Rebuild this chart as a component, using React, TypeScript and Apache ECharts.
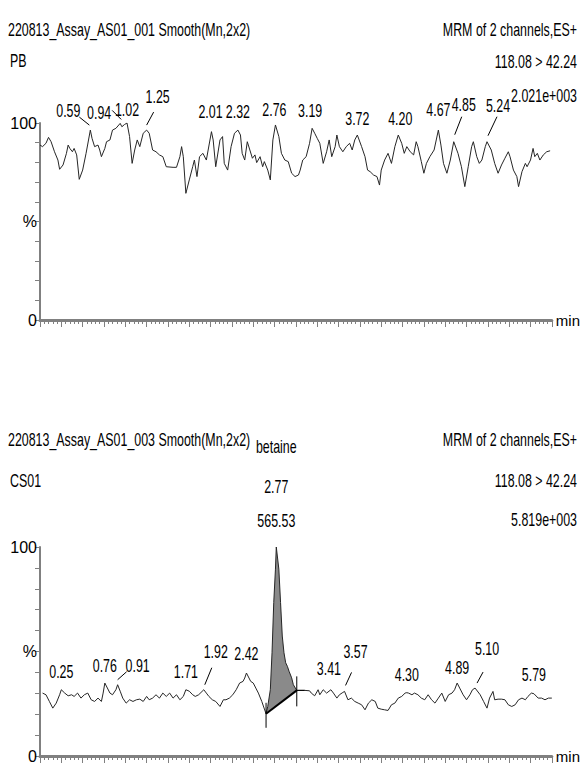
import React, { useEffect, useRef } from "react";
import * as echarts from "echarts";

const FONT = "'Liberation Sans', Arial, sans-serif";
const SQUEEZE = 0.69;
const TEXT_SIZE = 18;

// ---------- Top chromatogram (PB) : time (min), relative intensity (%) ----------
const topTrace: number[][] = [
  [0.00, 88.8], [0.03, 88.0], [0.07, 89.7], [0.10, 92.7], [0.13, 90.5], [0.17, 85.4], [0.21, 81.2], [0.23, 76.5],
  [0.27, 78.7], [0.31, 84.6], [0.33, 88.8], [0.35, 87.1], [0.38, 85.4], [0.40, 87.1], [0.43, 83.8], [0.46, 71.4],
  [0.50, 76.1], [0.54, 84.6], [0.59, 96.4], [0.61, 92.2], [0.64, 88.0], [0.68, 88.8], [0.70, 86.3], [0.72, 82.9],
  [0.76, 87.1], [0.78, 90.5], [0.82, 91.4], [0.85, 96.4], [0.89, 97.3], [0.94, 99.8], [0.96, 98.1], [0.99, 99.2],
  [1.02, 100], [1.05, 93.1], [1.08, 79.5], [1.11, 86.3], [1.14, 91.4], [1.17, 88.0], [1.21, 94.8], [1.25, 96.4],
  [1.28, 94.8], [1.32, 86.3], [1.36, 85.4], [1.40, 83.8], [1.44, 82.9], [1.48, 77.8], [1.56, 77.5], [1.60, 77.5],
  [1.64, 82.9], [1.66, 88.0], [1.68, 82.9], [1.71, 64.3], [1.75, 71.1], [1.79, 77.8], [1.81, 81.2], [1.84, 72.8],
  [1.87, 82.9], [1.91, 84.6], [1.95, 81.2], [2.01, 95.6], [2.03, 91.4], [2.06, 77.8], [2.11, 91.4], [2.14, 93.1],
  [2.16, 79.5], [2.20, 76.1], [2.24, 88.0], [2.28, 94.8], [2.32, 96.4], [2.35, 93.9], [2.37, 84.6], [2.40, 81.2],
  [2.43, 90.5], [2.46, 86.3], [2.49, 82.1], [2.52, 83.8], [2.54, 79.9], [2.58, 82.9], [2.61, 77.8], [2.63, 80.4],
  [2.67, 76.1], [2.70, 71.1], [2.73, 91.4], [2.76, 99.0], [2.80, 93.1], [2.83, 84.6], [2.87, 81.2], [2.91, 80.4],
  [2.95, 74.5], [2.99, 72.8], [3.03, 73.6], [3.05, 76.1], [3.08, 81.2], [3.12, 82.9], [3.16, 89.7], [3.19, 97.3],
  [3.22, 94.8], [3.25, 92.2], [3.28, 89.7], [3.32, 79.5], [3.36, 85.4], [3.39, 91.4], [3.42, 82.9], [3.46, 88.0],
  [3.48, 93.9], [3.51, 88.0], [3.55, 85.4], [3.59, 88.0], [3.63, 89.7], [3.66, 86.3], [3.69, 91.4], [3.72, 93.9],
  [3.77, 88.0], [3.81, 82.9], [3.84, 76.1], [3.87, 75.3], [3.91, 73.6], [3.95, 72.8], [3.98, 68.5], [4.00, 76.1],
  [4.04, 81.2], [4.08, 84.6], [4.12, 79.5], [4.16, 88.0], [4.20, 93.9], [4.24, 89.7], [4.27, 84.6], [4.30, 88.0],
  [4.34, 85.4], [4.38, 83.8], [4.41, 90.5], [4.43, 88.0], [4.47, 80.4], [4.50, 74.5], [4.53, 79.5], [4.57, 82.9],
  [4.62, 86.3], [4.67, 96.4], [4.70, 88.8], [4.73, 79.5], [4.77, 74.5], [4.81, 81.2], [4.85, 90.5], [4.90, 84.6],
  [4.94, 77.8], [4.98, 67.7], [5.02, 77.8], [5.06, 88.0], [5.08, 90.5], [5.12, 82.9], [5.15, 79.5], [5.18, 81.2],
  [5.22, 88.0], [5.24, 90.5], [5.29, 86.3], [5.33, 79.5], [5.37, 74.5], [5.41, 78.7], [5.45, 82.1], [5.49, 85.4],
  [5.51, 82.9], [5.55, 76.1], [5.59, 72.8], [5.61, 67.7], [5.65, 75.3], [5.69, 79.5], [5.71, 77.8], [5.75, 81.2],
  [5.78, 87.1], [5.80, 82.9], [5.83, 84.6], [5.86, 81.2], [5.90, 83.8], [5.94, 85.4], [5.98, 85.9],
];
const topPeakTimes = [0.59, 0.94, 1.02, 1.25, 2.01, 2.32, 2.76, 3.19, 3.72, 4.20, 4.67, 4.85, 5.24];
const topPeakHeights = [96.4, 99.8, 100, 96.4, 95.6, 96.4, 99.0, 97.3, 93.9, 93.9, 96.4, 90.5, 90.5];

// ---------- Bottom chromatogram (CS01) ----------
const bottomPre: number[][] = [
  [0.03, 30.1], [0.07, 29.3], [0.11, 26.1], [0.15, 22.9], [0.19, 25.3], [0.23, 29.3], [0.25, 31.7], [0.29, 30.1],
  [0.33, 28.8], [0.37, 29.3], [0.40, 28.5], [0.44, 30.1], [0.48, 27.7], [0.52, 29.3], [0.56, 30.1], [0.60, 26.9],
  [0.64, 26.1], [0.68, 27.7], [0.72, 26.1], [0.74, 30.1], [0.76, 34.9], [0.82, 30.1], [0.85, 29.3], [0.89, 31.7],
  [0.91, 34.1], [0.94, 31.0], [0.97, 27.7], [1.01, 25.3], [1.05, 26.9], [1.09, 26.1], [1.13, 26.9], [1.17, 27.2],
  [1.21, 26.1], [1.25, 28.5], [1.28, 26.9], [1.32, 27.7], [1.36, 29.3], [1.40, 27.7], [1.44, 30.1], [1.48, 28.5],
  [1.52, 30.1], [1.56, 27.7], [1.60, 29.3], [1.64, 26.9], [1.68, 28.5], [1.71, 31.7], [1.75, 31.0], [1.79, 29.3],
  [1.82, 28.5], [1.86, 29.3], [1.92, 31.7], [1.95, 30.1], [1.98, 28.5], [2.02, 26.9], [2.06, 26.1], [2.11, 23.7],
  [2.15, 26.9], [2.18, 26.9], [2.22, 27.7], [2.26, 29.3], [2.30, 31.7], [2.34, 34.9], [2.38, 35.7], [2.40, 37.3],
  [2.42, 39.7], [2.47, 35.7], [2.50, 34.9], [2.53, 32.5], [2.56, 30.1], [2.60, 26.1],
];
const bottomPeak: number[][] = [
  [2.65, 20.2], [2.67, 23.7], [2.70, 31.7], [2.72, 49.4], [2.74, 73.4], [2.76, 89.4], [2.77, 100], [2.80, 89.4],
  [2.82, 73.4], [2.84, 57.4], [2.86, 49.4], [2.88, 44.6], [2.90, 42.9], [2.92, 40.5], [2.95, 37.4], [2.97, 34.1],
  [3.01, 31.4],
];
const bottomPost: number[][] = [
  [3.10, 31.4], [3.16, 31.2], [3.18, 30.1], [3.22, 28.8], [3.26, 31.7], [3.28, 29.3], [3.32, 31.7], [3.36, 30.1],
  [3.41, 31.7], [3.44, 30.1], [3.48, 27.7], [3.51, 29.3], [3.55, 30.4], [3.57, 30.9], [3.61, 26.9], [3.65, 27.7],
  [3.69, 26.1], [3.73, 25.3], [3.77, 24.5], [3.81, 22.1], [3.85, 25.3], [3.89, 26.9], [3.93, 26.1], [3.96, 22.9],
  [4.00, 22.4], [4.04, 22.1], [4.08, 21.8], [4.12, 24.5], [4.16, 25.3], [4.20, 27.7], [4.24, 28.5], [4.28, 30.1],
  [4.30, 30.3], [4.32, 30.1], [4.36, 29.3], [4.39, 30.1], [4.43, 29.3], [4.47, 27.7], [4.51, 26.9], [4.55, 29.3],
  [4.59, 26.9], [4.63, 25.3], [4.67, 27.7], [4.71, 30.1], [4.75, 26.1], [4.79, 29.3], [4.83, 30.1], [4.86, 31.7],
  [4.89, 34.9], [4.92, 32.5], [4.96, 29.3], [5.00, 26.9], [5.04, 29.3], [5.07, 31.7], [5.10, 32.5], [5.16, 29.3],
  [5.20, 26.1], [5.24, 22.9], [5.27, 27.7], [5.31, 30.9], [5.33, 26.9], [5.37, 27.2], [5.41, 27.2], [5.45, 26.9],
  [5.49, 24.5], [5.53, 23.7], [5.57, 24.5], [5.61, 26.9], [5.65, 27.7], [5.69, 26.9], [5.72, 28.5], [5.76, 30.1],
  [5.79, 29.8], [5.84, 27.7], [5.88, 27.7], [5.92, 26.9], [5.96, 27.7], [6.00, 27.7],
];
const bottomPeakTimes = [0.25, 0.76, 0.91, 1.71, 1.92, 2.42, 3.41, 3.57, 4.30, 4.89, 5.10, 5.79];
const bottomPeakHeights = [31.7, 34.9, 34.1, 31.7, 31.7, 39.7, 31.7, 30.9, 30.3, 34.9, 32.5, 29.8];
const mainPeakName = "betaine";
const mainPeakTime = 2.77;
const mainPeakHeight = 100;
const mainPeakArea = "565.53";

// header texts
const topTitle = "220813_Assay_AS01_001 Smooth(Mn,2x2)";
const topSample = "PB";
const topIntensity = "2.021e+003";
const bottomTitle = "220813_Assay_AS01_003 Smooth(Mn,2x2)";
const bottomSample = "CS01";
const bottomIntensity = "5.819e+003";
const scanText = "MRM of 2 channels,ES+";
const transitionText = "118.08 > 42.24";

// ---------- layout (pixel offsets of labels from their peak apex) ----------
type Off = [number, number, number[]?];
const topLabelOffsets: Off[] = [
  [-22, -19, [-11, -13, -1, -5]],
  [-21, -11, [-8, -13, 1, -4]],
  [0, -13],
  [11, -33, [7, -18, 0, -5]],
  [-1, -20],
  [0, -18],
  [-1, -15],
  [-2, -18],
  [0, -16],
  [2, -16],
  [0, -20],
  [10, -37, [8, -25, 1, -7]],
  [11, -36, [10, -25, 1, -6]],
];
const bottomLabelOffsets: Off[] = [
  [0, -18],
  [0, -17],
  [20, -19, [0, -5, 9, -13]],
  [0, -18],
  [12, -38, [1, -5, 8, -22]],
  [0, -19],
  [-2, -21],
  [11, -40, [1, -6, 7, -19]],
  [0, -18],
  [0, -15],
  [12, -39, [2, -5, 8, -16]],
  [0, -19],
];

const AXIS = "#808080";
const TRACE = "#262626";

function textStyle(text: string, align: string) {
  return { text, fill: "#000", fontSize: TEXT_SIZE, fontFamily: FONT, align, verticalAlign: "middle" };
}

function labelSeries(idx: number, times: number[], heights: number[], offsets: Off[]) {
  return {
    type: "custom",
    xAxisIndex: idx,
    yAxisIndex: idx,
    clip: false,
    silent: true,
    z: 6,
    data: times.map((t, i) => [t, heights[i]]),
    encode: { x: 0, y: 1 },
    renderItem: (params: any, api: any) => {
      const i = params.dataIndex;
      const p = api.coord([api.value(0), api.value(1)]);
      const o = offsets[i];
      const children: any[] = [
        {
          type: "text",
          x: p[0] + o[0],
          y: p[1] + o[1],
          scaleX: SQUEEZE,
          style: textStyle(times[i].toFixed(2), "center"),
        },
      ];
      if (o[2]) {
        const l = o[2];
        children.push({
          type: "line",
          shape: { x1: p[0] + l[0], y1: p[1] + l[1], x2: p[0] + l[2], y2: p[1] + l[3] },
          style: { stroke: "#000", lineWidth: 1 },
        });
      }
      return { type: "group", children };
    },
  };
}

function txt(x: number, y: number, text: string, align: string) {
  return { type: "text", x, y, scaleX: SQUEEZE, silent: true, style: textStyle(text, align) };
}

export default function App() {
  const ref = useRef<HTMLDivElement>(null);
  useEffect(() => {
    if (!ref.current) return;
    const chart = echarts.init(ref.current, null, { renderer: "svg" });

    const xAxisBase = (gi: number) => ({
      type: "value",
      gridIndex: gi,
      min: 0,
      max: 6,
      interval: 0.25,
      axisLine: { show: true, onZero: false, lineStyle: { color: AXIS, width: 3 } },
      axisTick: { show: true, length: 7, lineStyle: { color: AXIS, width: 1 } },
      minorTick: { show: true, splitNumber: 5, length: 4, lineStyle: { color: AXIS, width: 1 } },
      axisLabel: { show: false },
      splitLine: { show: false },
      minorSplitLine: { show: false },
      name: "min",
      nameLocation: "end",
      nameGap: 4,
      nameTextStyle: { fontFamily: FONT, fontSize: 15, color: "#000", verticalAlign: "middle" },
    });
    const yAxisBase = (gi: number) => ({
      type: "value",
      gridIndex: gi,
      min: 0,
      max: 100,
      interval: 10,
      axisLine: { show: true, lineStyle: { color: AXIS, width: 2 } },
      axisTick: { show: true, length: 5, lineStyle: { color: AXIS, width: 1 } },
      axisLabel: {
        margin: 3,
        fontFamily: FONT,
        fontSize: 16,
        color: "#000",
        formatter: (v: number) => (v === 100 ? "100" : v === 50 ? "%" : v === 0 ? "0" : ""),
      },
      splitLine: { show: false },
    });

    const bottomAll = [...bottomPre, ...bottomPeak, ...bottomPost];
    const base0 = bottomPeak[0];
    const base1 = bottomPeak[bottomPeak.length - 1];

    const option: any = {
      animation: false,
      backgroundColor: "#fff",
      grid: [
        { left: 40, width: 512, top: 123, height: 197 },
        { left: 40, width: 512, top: 547, height: 209 },
      ],
      xAxis: [xAxisBase(0), xAxisBase(1)],
      yAxis: [yAxisBase(0), yAxisBase(1)],
      series: [
        {
          type: "line",
          xAxisIndex: 0,
          yAxisIndex: 0,
          data: topTrace,
          showSymbol: false,
          symbol: "none",
          lineStyle: { color: TRACE, width: 1 },
          z: 3,
        },
        labelSeries(0, topPeakTimes, topPeakHeights, topLabelOffsets),
        {
          type: "custom",
          xAxisIndex: 1,
          yAxisIndex: 1,
          clip: false,
          silent: true,
          z: 2,
          data: bottomPeak,
          encode: { x: 0, y: 1 },
          renderItem: (params: any, api: any) => {
            if (params.dataIndex !== 0) return null;
            const pts = bottomPeak.map((p) => api.coord(p));
            return { type: "polygon", shape: { points: pts }, style: { fill: "#8a8a8a" } };
          },
        },
        {
          type: "line",
          xAxisIndex: 1,
          yAxisIndex: 1,
          data: bottomAll,
          showSymbol: false,
          symbol: "none",
          lineStyle: { color: TRACE, width: 1 },
          z: 3,
        },
        {
          type: "custom",
          xAxisIndex: 1,
          yAxisIndex: 1,
          clip: false,
          silent: true,
          z: 4,
          data: [base0, base1],
          encode: { x: 0, y: 1 },
          renderItem: (params: any, api: any) => {
            if (params.dataIndex !== 0) return null;
            const a = api.coord(base0);
            const b = api.coord(base1);
            return {
              type: "group",
              children: [
                { type: "line", shape: { x1: a[0], y1: a[1], x2: b[0], y2: b[1] }, style: { stroke: "#000", lineWidth: 2 } },
                { type: "line", shape: { x1: a[0], y1: a[1] - 11, x2: a[0], y2: a[1] + 14 }, style: { stroke: "#000", lineWidth: 1 } },
                { type: "line", shape: { x1: b[0], y1: b[1] - 14, x2: b[0], y2: b[1] + 16 }, style: { stroke: "#000", lineWidth: 1 } },
                { type: "line", shape: { x1: b[0], y1: b[1], x2: b[0] + 8, y2: b[1] }, style: { stroke: "#000", lineWidth: 1 } },
              ],
            };
          },
        },
        labelSeries(1, bottomPeakTimes, bottomPeakHeights, bottomLabelOffsets),
        {
          type: "custom",
          xAxisIndex: 1,
          yAxisIndex: 1,
          clip: false,
          silent: true,
          z: 6,
          data: [[mainPeakTime, mainPeakHeight]],
          encode: { x: 0, y: 1 },
          renderItem: (params: any, api: any) => {
            const p = api.coord([api.value(0), api.value(1)]);
            return {
              type: "group",
              children: [
                { type: "text", x: p[0], y: p[1] - 100, scaleX: SQUEEZE, style: textStyle(mainPeakName, "center") },
                { type: "text", x: p[0], y: p[1] - 60, scaleX: SQUEEZE, style: textStyle(mainPeakTime.toFixed(2), "center") },
                { type: "text", x: p[0], y: p[1] - 26, scaleX: SQUEEZE, style: textStyle(mainPeakArea, "center") },
              ],
            };
          },
        },
      ],
      graphic: [
        txt(8, 30, topTitle, "left"),
        txt(10, 61, topSample, "left"),
        txt(577, 30, scanText, "right"),
        txt(577, 62, transitionText, "right"),
        txt(577, 96, topIntensity, "right"),
        txt(8, 440, bottomTitle, "left"),
        txt(10, 481, bottomSample, "left"),
        txt(577, 440, scanText, "right"),
        txt(577, 481, transitionText, "right"),
        txt(577, 520, bottomIntensity, "right"),
      ],
    };
    chart.setOption(option);
    return () => chart.dispose();
  }, []);
  return (
    <div
      ref={ref}
      style={{ position: "fixed", left: 0, top: 0, width: 581, height: 774, background: "#fff" }}
    />
  );
}
